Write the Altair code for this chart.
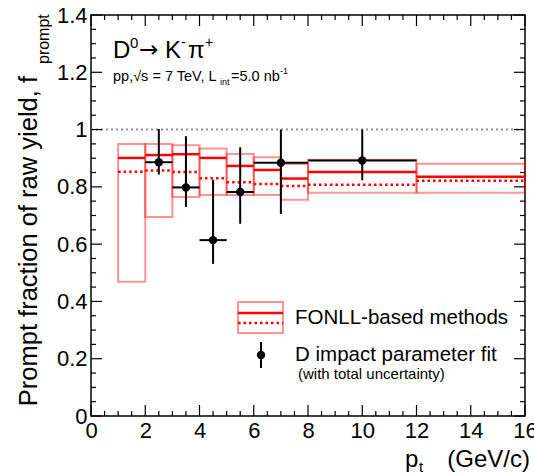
import altair as alt
import pandas as pd

# ---------------- data ----------------
bin_lo = [1, 2, 3, 4, 5, 6, 7, 8, 12]
bin_hi = [2, 3, 4, 5, 6, 7, 8, 12, 16]
fonll_top = [0.950, 0.950, 0.945, 0.934, 0.915, 0.903, 0.880, 0.895, 0.881]
fonll_bottom = [0.469, 0.695, 0.765, 0.772, 0.772, 0.772, 0.755, 0.779, 0.779]
fonll_central = [0.901, 0.911, 0.914, 0.901, 0.873, 0.859, 0.829, 0.852, 0.835]
fonll_dotted = [0.853, 0.857, 0.852, 0.830, 0.816, 0.810, 0.803, 0.807, 0.821]

pt_center = [2.5, 3.5, 4.5, 5.5, 7.0, 10.0]
pt_lo = [2, 3, 4, 5, 6, 8]
pt_hi = [3, 4, 5, 6, 8, 12]
fit_val = [0.886, 0.798, 0.614, 0.782, 0.884, 0.892]
fit_err_lo = [0.843, 0.730, 0.531, 0.671, 0.705, 0.823]
fit_err_hi = [1.002, 0.977, 0.825, 0.938, 1.000, 1.000]

x_ticks = [0, 2, 4, 6, 8, 10, 12, 14, 16]
y_ticks = [0, 0.2, 0.4, 0.6, 0.8, 1.0, 1.2, 1.4]
x_minor = [i * 0.5 for i in range(33) if (i % 4) != 0]
y_minor = [round(i * 0.05, 2) for i in range(29) if (i % 4) != 0]

W, H = 434, 401
FONT = "Liberation Sans"

fonll = pd.DataFrame(dict(lo=bin_lo, hi=bin_hi, top=fonll_top, bottom=fonll_bottom,
                          central=fonll_central, dotted=fonll_dotted))
fit = pd.DataFrame(dict(x=pt_center, xlo=pt_lo, xhi=pt_hi, y=fit_val,
                        ylo=fit_err_lo, yhi=fit_err_hi))

xs = alt.Scale(domain=[0, 16], nice=False, zero=False)
ys = alt.Scale(domain=[0, 1.4], nice=False, zero=False)

xaxis = alt.Axis(values=x_ticks, title=None, ticks=False, domain=False, grid=False,
                 labelFontSize=22, labelFont=FONT, labelColor="black", labelPadding=4,
                 labelFlush=False, labelOverlap=False, labelBound=False)
yaxis = alt.Axis(values=y_ticks, title=None, ticks=False, domain=False, grid=False,
                 labelFontSize=22, labelFont=FONT, labelColor="black", labelPadding=4,
                 labelFlush=False, labelOverlap=False, labelBound=False,
                 labelExpr="datum.value == 0 ? '0' : (abs(datum.value - 1) < 1e-6 ? '1' : format(datum.value, '.1f'))")

base = alt.Chart(fonll)

boxes = base.mark_rect(fill=None, stroke="#ff0000", strokeOpacity=0.42, strokeWidth=2).encode(
    x=alt.X("lo:Q", scale=xs, axis=xaxis), x2="hi:Q",
    y=alt.Y("bottom:Q", scale=ys, axis=yaxis), y2="top:Q")
central = base.mark_rule(color="#ff0000", strokeWidth=2.5).encode(
    x=alt.X("lo:Q", scale=xs), x2="hi:Q", y=alt.Y("central:Q", scale=ys))
dotted = base.mark_rule(color="#ff0000", strokeWidth=2.5, strokeDash=[2.5, 3]).encode(
    x=alt.X("lo:Q", scale=xs), x2="hi:Q", y=alt.Y("dotted:Q", scale=ys))

unity = alt.Chart(pd.DataFrame({"a": [0], "b": [16], "y": [1.0]})).mark_rule(
    color="#909090", strokeWidth=2, strokeDash=[2, 3]).encode(
    x=alt.X("a:Q", scale=xs), x2="b:Q", y=alt.Y("y:Q", scale=ys))

fb = alt.Chart(fit)
vbar = fb.mark_rule(color="black", strokeWidth=2).encode(
    x=alt.X("x:Q", scale=xs), y=alt.Y("ylo:Q", scale=ys), y2="yhi:Q")
hbar = fb.mark_rule(color="black", strokeWidth=2).encode(
    x=alt.X("xlo:Q", scale=xs), x2="xhi:Q", y=alt.Y("y:Q", scale=ys))
pts = fb.mark_point(filled=True, color="black", size=70, opacity=1).encode(
    x=alt.X("x:Q", scale=xs), y=alt.Y("y:Q", scale=ys))

# inner ticks (ROOT style)
def xtick_layer(vals, length):
    d = alt.Chart(pd.DataFrame({"v": vals}))
    bot = d.mark_rule(color="black", strokeWidth=1.2).encode(
        x=alt.X("v:Q", scale=xs), y=alt.value(H), y2=alt.value(H - length))
    top = d.mark_rule(color="black", strokeWidth=1.2).encode(
        x=alt.X("v:Q", scale=xs), y=alt.value(0), y2=alt.value(length))
    return bot + top

def ytick_layer(vals, length):
    d = alt.Chart(pd.DataFrame({"v": vals}))
    left = d.mark_rule(color="black", strokeWidth=1.2).encode(
        y=alt.Y("v:Q", scale=ys), x=alt.value(0), x2=alt.value(length))
    right = d.mark_rule(color="black", strokeWidth=1.2).encode(
        y=alt.Y("v:Q", scale=ys), x=alt.value(W), x2=alt.value(W - length))
    return left + right

ticks = (xtick_layer(x_ticks, 11) + xtick_layer(x_minor, 5) +
         ytick_layer(y_ticks, 11) + ytick_layer(y_minor, 5))

one = alt.Chart(pd.DataFrame({"k": [0]}))

def txt(s, x, y, size, align="left", baseline="alphabetic", angle=0, color="black", font=FONT):
    return one.mark_text(text=s, fontSize=size, font=font, align=align, baseline=baseline,
                         angle=angle, color=color).encode(x=alt.value(x), y=alt.value(y))

texts = (
    txt("D", 22, 43, 24)
    + txt("0", 39, 33, 15)
    + txt("→", 48, 42, 23, font="DejaVu Sans")
    + txt("K", 74, 43, 24)
    + txt("-", 90, 32, 14)
    + txt("π", 97, 43, 24)
    + txt("+", 114, 32, 14)
    + txt("pp,√s = 7 TeV, L", 22, 66, 14.5)
    + txt("int", 129, 70, 9)
    + txt("=5.0 nb", 140, 66, 14.5)
    + txt("-1", 189, 59, 9)
    + txt("Prompt fraction of raw yield, f", -54, 61, 25.5, align="right", angle=270)
    + txt("prompt", -42, 49, 16, align="left", angle=270)
    + txt("p", 314, 452, 24)
    + txt("t", 328, 457, 15)
    + txt("(GeV/c)", 439, 452, 24, align="right")
    + txt("FONLL-based methods", 204, 303, 20.5, baseline="middle")
    + txt("D impact parameter fit", 204, 340, 20.5, baseline="middle")
    + txt("(with total uncertainty)", 207, 359, 15, baseline="middle")
)

leg_box = one.mark_rect(fill=None, stroke="#ff0000", strokeOpacity=0.42, strokeWidth=2).encode(
    x=alt.value(147), x2=alt.value(192), y=alt.value(287), y2=alt.value(318))
leg_solid = one.mark_rule(color="#ff0000", strokeWidth=2.5).encode(
    x=alt.value(147), x2=alt.value(192), y=alt.value(298))
leg_dot = one.mark_rule(color="#ff0000", strokeWidth=2.5, strokeDash=[2.5, 3]).encode(
    x=alt.value(147), x2=alt.value(192), y=alt.value(308))
leg_v = one.mark_rule(color="black", strokeWidth=2).encode(
    x=alt.value(170), y=alt.value(327), y2=alt.value(353))
leg_p = one.mark_point(filled=True, color="black", size=70, opacity=1).encode(
    x=alt.value(170), y=alt.value(340))

chart = alt.layer(
    boxes, unity, central, dotted, vbar, hbar, pts, ticks, texts,
    leg_box, leg_solid, leg_dot, leg_v, leg_p
).properties(
    width=W, height=H,
    autosize=alt.AutoSizeParams(type="none"),
    padding={"left": 91, "top": 15, "right": 9, "bottom": 59},
    background="white",
).configure_view(stroke="black", strokeWidth=1.5)

chart.save("out.html", embed_options={"renderer": "svg", "actions": False})
